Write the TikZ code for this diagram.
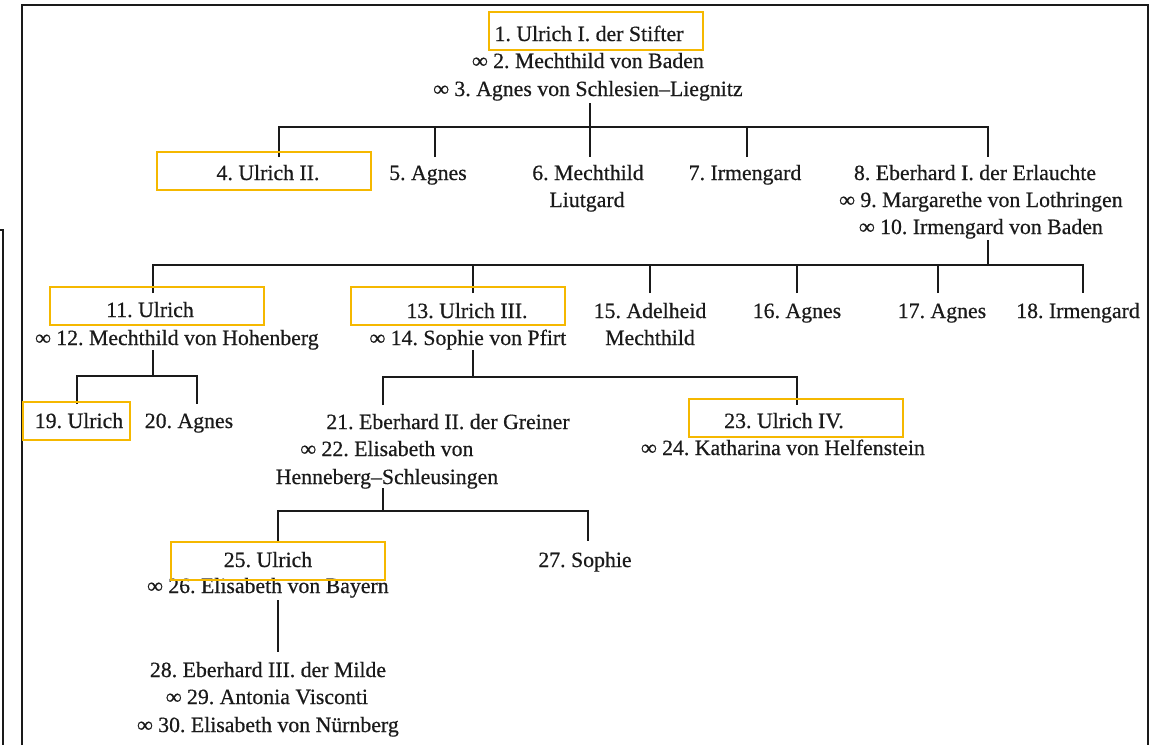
\documentclass[tikz,border=0pt]{standalone}
\usepackage{fontspec}
\setmainfont{Liberation Serif}
\newfontfamily\inkfont[FakeBold=0.5]{Liberation Serif}
\newcommand\mrg{{\bfseries ∞}}
\definecolor{ink}{HTML}{1A1A1A}
\definecolor{hlc}{HTML}{F5B800}
\tikzset{
  txt/.style={anchor=base, inner sep=0pt, font=\inkfont\frenchspacing\fontsize{21.8}{25}\selectfont, text=ink},
  hl/.style={draw=hlc, line width=2pt, inner sep=0pt, minimum height=38pt},
  ln/.style={line width=2.4pt, draw=ink},
  frame/.style={line width=2.4pt, draw=ink}
}
\begin{document}
\begin{tikzpicture}[x=1pt,y=-1pt]
\useasboundingbox (0,0) rectangle (1158,745);
\fill[white] (0,0) rectangle (1158,745);
% frames
\coordinate (fa) at (22,745); \coordinate (fb) at (22,5);
\coordinate (fc) at (1148,5); \coordinate (fd) at (1148,745);
\draw[frame] (fa) -- (fb) -- (fc) -- (fd);
\coordinate (ga) at (0,230); \coordinate (gb) at (3,230); \coordinate (gc) at (3,745);
\draw[frame] (ga) -- (gb) -- (gc);

% connector coordinates
\coordinate (f1) at (590,103);
\coordinate (c4) at (279,157); \coordinate (c5) at (435,157); \coordinate (c6) at (590,157);
\coordinate (c7) at (747,157); \coordinate (c8) at (988,157);
\coordinate (f8) at (988,240);
\coordinate (c11) at (153,293); \coordinate (c13) at (473,293); \coordinate (c15) at (650,293);
\coordinate (c16) at (797,293); \coordinate (c17) at (938,293); \coordinate (c18) at (1083,293);
\coordinate (f11) at (153,350);
\coordinate (c19) at (77,404); \coordinate (c20) at (197,404);
\coordinate (f13) at (473,350);
\coordinate (c21) at (383,405); \coordinate (c23) at (797,405);
\coordinate (f21) at (383,488);
\coordinate (c25) at (278,541); \coordinate (c27) at (588,541);
\coordinate (f25) at (278,600); \coordinate (c28) at (278,652);

% connectors
\draw[ln] (c4) -- ++(0,-30) -| (c8);
\draw[ln] (f1) -- (c6);
\draw[ln] (c5) -- ++(0,-30);
\draw[ln] (c7) -- ++(0,-30);

\draw[ln] (c11) -- ++(0,-28) -| (c18);
\draw[ln] (f8) -- ++(0,25);
\draw[ln] (c13) -- ++(0,-28);
\draw[ln] (c15) -- ++(0,-28);
\draw[ln] (c16) -- ++(0,-28);
\draw[ln] (c17) -- ++(0,-28);

\draw[ln] (c19) -- ++(0,-28) -| (c20);
\draw[ln] (f11) -- ++(0,26);

\draw[ln] (c21) -- ++(0,-28) -| (c23);
\draw[ln] (f13) -- ++(0,27);

\draw[ln] (c25) -- ++(0,-30) -| (c27);
\draw[ln] (f21) -- ++(0,23);

\draw[ln] (f25) -- (c28);

% texts
\node[txt] (n1) at (589,41) {1. Ulrich I. der Stifter};
\node[txt] (n2) at (588,68) {\mrg{} 2. Mechthild von Baden};
\node[txt] (n3) at (588,96) {\mrg{} 3. Agnes von Schlesien–Liegnitz};

\node[txt] (n4) at (268,180) {4. Ulrich II.};
\node[txt] (n5) at (428,180) {5. Agnes};
\node[txt] (n6) at (588,180) {6. Mechthild};
\node[txt] (n6b) at (587,207) {Liutgard};
\node[txt] (n7) at (745,180) {7. Irmengard};
\node[txt] (n8) at (975,180) {8. Eberhard I. der Erlauchte};
\node[txt] (n9) at (981,207) {\mrg{} 9. Margarethe von Lothringen};
\node[txt] (n10) at (981,234) {\mrg{} 10. Irmengard von Baden};

\node[txt] (n11) at (150,317) {11. Ulrich};
\node[txt] (n12) at (177,345) {\mrg{} 12. Mechthild von Hohenberg};
\node[txt] (n13) at (467,318) {13. Ulrich III.};
\node[txt] (n14) at (468,345) {\mrg{} 14. Sophie von Pfirt};
\node[txt] (n15) at (650,318) {15. Adelheid};
\node[txt] (n15b) at (650,345) {Mechthild};
\node[txt] (n16) at (797,318) {16. Agnes};
\node[txt] (n17) at (942,318) {17. Agnes};
\node[txt] (n18) at (1078,318) {18. Irmengard};

\node[txt] (n19) at (79,428) {19. Ulrich};
\node[txt] (n20) at (189,428) {20. Agnes};
\node[txt] (n21) at (448,429) {21. Eberhard II. der Greiner};
\node[txt] (n22) at (387,456) {\mrg{} 22. Elisabeth von};
\node[txt] (n22b) at (387,484) {Henneberg–Schleusingen};
\node[txt] (n23) at (784,428) {23. Ulrich IV.};
\node[txt] (n24) at (783,455) {\mrg{} 24. Katharina von Helfenstein};

\node[txt] (n25) at (268,567) {25. Ulrich};
\node[txt] (n26) at (268,593) {\mrg{} 26. Elisabeth von Bayern};
\node[txt] (n27) at (585,567) {27. Sophie};
\node[txt] (n28) at (268,677) {28. Eberhard III. der Milde};
\node[txt] (n29) at (267,704) {\mrg{} 29. Antonia Visconti};
\node[txt] (n30) at (268,732) {\mrg{} 30. Elisabeth von Nürnberg};

% highlight boxes
\node[hl, minimum width=214pt] (b1) at (596,31) {};
\node[hl, minimum width=214pt] (b4) at (264,171) {};
\node[hl, minimum width=214pt] (b11) at (157,306) {};
\node[hl, minimum width=214pt] (b13) at (458,306) {};
\node[hl, minimum width=107pt] (b19) at (76.5,421) {};
\node[hl, minimum width=214pt] (b23) at (796,417.5) {};
\node[hl, minimum width=214pt] (b25) at (277.5,561) {};
\end{tikzpicture}
\end{document}
